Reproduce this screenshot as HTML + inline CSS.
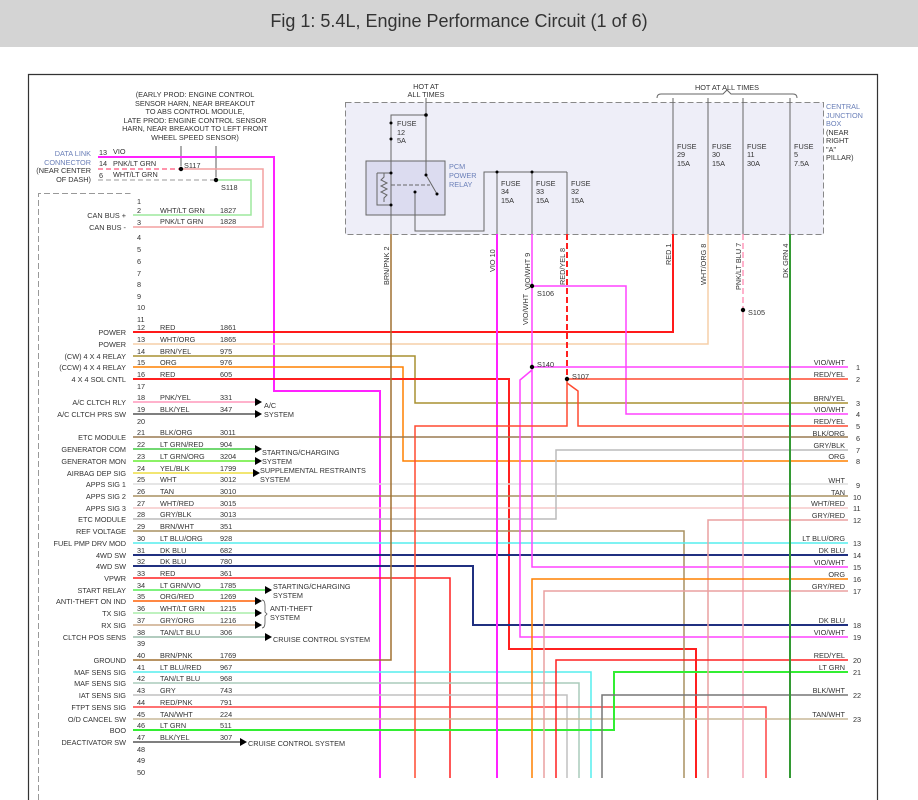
<!DOCTYPE html>
<html><head><meta charset="utf-8"><style>
html,body{margin:0;padding:0;background:#fff;width:918px;height:800px;overflow:hidden}
svg{display:block}
text{font-family:"Liberation Sans",sans-serif;font-size:7.3px;fill:#333}
.t{font-size:18px;fill:#333}
.b{fill:#6a7fb8}
.w{fill:none;stroke-width:1.5}
</style></head><body>
<svg width="918" height="800" viewBox="0 0 918 800" xmlns="http://www.w3.org/2000/svg">
<rect x="0" y="0" width="918" height="47" fill="#d4d4d4"/>
<text class="t" x="459" y="27" text-anchor="middle">Fig 1: 5.4L, Engine Performance Circuit (1 of 6)</text>
<path d="M28.5,800 V74.5 H877.5 V800" fill="none" stroke="#333" stroke-width="1.2"/>

<!-- CJB -->
<rect x="345.5" y="102.5" width="478" height="132" fill="#eeeef8" stroke="#888" stroke-dasharray="6,3"/>
<rect x="366" y="161" width="79" height="54" fill="#dcdcf0" stroke="#666"/>
<g stroke="#666" fill="none" stroke-width="1">
<path d="M426,98 V115 H391 V161 M426,115 V161"/>
<path d="M391,161 V234 M377,173 H391 M377,173 V205 H391 M384,173 v4 l-3,3 l6,3 l-6,3 l6,3 l-6,3 l6,3 l-3,3 v4"/>
<path d="M391,185 H430" stroke-dasharray="4,2"/>
<path d="M426,161 V175 L437,194 M415,192 V215 V231 H484 V172 H567 M497,172 V234 M532,172 V234 M567,172 V234"/>
<path d="M673,98 V234 M708,98 V234 M743,98 V234 M790,98 V234"/>
<path d="M657,98 q0,-4 4,-4 h62 l4,-4 l4,4 h62 q4,0 4,4"/>
</g>
<g fill="#000">
<circle cx="426" cy="115" r="1.8"/><circle cx="391" cy="123" r="1.5"/><circle cx="391" cy="139" r="1.5"/>
<circle cx="391" cy="173" r="1.5"/><circle cx="391" cy="205" r="1.5"/><circle cx="426" cy="175" r="1.5"/><circle cx="437" cy="194" r="1.5"/><circle cx="415" cy="192" r="1.5"/>
<circle cx="497" cy="172" r="1.5"/><circle cx="532" cy="172" r="1.5"/>
</g>
<text x="426" y="89" text-anchor="middle">HOT AT</text><text x="426" y="97" text-anchor="middle">ALL TIMES</text>
<text x="397" y="126">FUSE</text><text x="397" y="135">12</text><text x="397" y="143">5A</text>
<text class="b" x="449" y="169">PCM</text><text class="b" x="449" y="178">POWER</text><text class="b" x="449" y="187">RELAY</text>
<text x="501" y="186">FUSE</text><text x="501" y="194">34</text><text x="501" y="203">15A</text>
<text x="536" y="186">FUSE</text><text x="536" y="194">33</text><text x="536" y="203">15A</text>
<text x="571" y="186">FUSE</text><text x="571" y="194">32</text><text x="571" y="203">15A</text>
<text x="677" y="149">FUSE</text><text x="677" y="157">29</text><text x="677" y="166">15A</text>
<text x="712" y="149">FUSE</text><text x="712" y="157">30</text><text x="712" y="166">15A</text>
<text x="747" y="149">FUSE</text><text x="747" y="157">11</text><text x="747" y="166">30A</text>
<text x="794" y="149">FUSE</text><text x="794" y="157">5</text><text x="794" y="166">7.5A</text>
<text x="727" y="90" text-anchor="middle">HOT AT ALL TIMES</text>
<text class="b" x="826" y="109">CENTRAL</text><text class="b" x="826" y="118">JUNCTION</text><text class="b" x="826" y="126">BOX</text>
<text x="826" y="135">(NEAR</text><text x="826" y="143">RIGHT</text><text x="826" y="152">"A"</text><text x="826" y="160">PILLAR)</text>
<g font-size="7">
<text transform="translate(389,285) rotate(-90)">BRN/PNK  2</text>
<text transform="translate(495,272) rotate(-90)">VIO  10</text>
<text transform="translate(530,290) rotate(-90)">VIO/WHT  9</text>
<text transform="translate(565,285) rotate(-90)">RED/YEL  8</text>
<text transform="translate(671,265) rotate(-90)">RED  1</text>
<text transform="translate(706,285) rotate(-90)">WHT/ORG  8</text>
<text transform="translate(741,290) rotate(-90)">PNK/LT BLU  7</text>
<text transform="translate(788,278) rotate(-90)">DK GRN  4</text>
<text transform="translate(528,325) rotate(-90)">VIO/WHT</text>
</g>

<!-- DLC -->
<text x="195" y="97" text-anchor="middle">(EARLY PROD: ENGINE CONTROL</text>
<text x="195" y="106" text-anchor="middle">SENSOR HARN, NEAR BREAKOUT</text>
<text x="195" y="114" text-anchor="middle">TO ABS CONTROL MODULE,</text>
<text x="195" y="123" text-anchor="middle">LATE PROD: ENGINE CONTROL SENSOR</text>
<text x="195" y="131" text-anchor="middle">HARN, NEAR BREAKOUT TO LEFT FRONT</text>
<text x="195" y="140" text-anchor="middle">WHEEL SPEED SENSOR)</text>
<text class="b" x="91" y="156" text-anchor="end">DATA LINK</text>
<text class="b" x="91" y="165" text-anchor="end">CONNECTOR</text>
<text x="91" y="173" text-anchor="end">(NEAR CENTER</text>
<text x="91" y="182" text-anchor="end">OF DASH)</text>
<text x="99" y="155">13</text><text x="113" y="154">VIO</text>
<text x="99" y="166">14</text><text x="113" y="166">PNK/LT GRN</text>
<text x="99" y="178">6</text><text x="113" y="177">WHT/LT GRN</text>
<text x="184" y="168">S117</text><text x="221" y="190">S118</text>
<path d="M181,146 V166 M216,146 V177" stroke="#333" stroke-width="0.8"/>
<path d="M38.5,800 V193.5 H130.5" fill="none" stroke="#999" stroke-dasharray="6,3"/>

<g class="w">
<path d="M98,157 H274 V391 H380 V778" stroke="#ff22ff" stroke-width="2"/>
<path d="M98,169 H181" stroke="#ff7090" stroke-dasharray="5,3"/>
<path d="M181,169 H263 V227 H133" stroke="#f4a0a0"/>
<path d="M98,180 H216" stroke="#bbb" stroke-dasharray="5,3"/>
<path d="M216,180 H251 V215 H133" stroke="#9ee89e"/>
<path d="M133,332 H673 V234" stroke="#ff1a1a" stroke-width="2"/>
<path d="M133,344 H708 V234" stroke="#f5cfa8"/>
<path d="M133,356 H415 V403 H848" stroke="#a89030"/>
<path d="M133,367 H403 V461 H848" stroke="#ff8000"/>
<path d="M133,379 H509 V649 H696 V778" stroke="#ff2020" stroke-width="2"/>
<path d="M133,402 H255" stroke="#ff99bb"/>
<path d="M133,414 H255" stroke="#555"/>
<path d="M133,437 H848" stroke="#9a7a50"/>
<path d="M133,449 H255" stroke="#44cc44"/>
<path d="M133,461 H255" stroke="#66ee33"/>
<path d="M133,473 H253" stroke="#eedd44"/>
<path d="M133,484 H848" stroke="#dedede"/>
<path d="M133,496 H848" stroke="#a89060"/>
<path d="M133,508 H848" stroke="#f5c8c8"/>
<path d="M133,519 H556 V450 H848" stroke="#bbbbbb"/>
<path d="M133,531 H684 V778" stroke="#a89060"/>
<path d="M133,543 H848" stroke="#55eeee"/>
<path d="M133,555 H848" stroke="#203080" stroke-width="2"/>
<path d="M133,566 H473 V625 H848" stroke="#203080" stroke-width="2"/>
<path d="M133,578 H450 V778" stroke="#ff2020"/>
<path d="M133,590 H265" stroke="#55ee55"/>
<path d="M133,601 H255" stroke="#ff8844" stroke-width="2"/>
<path d="M133,613 H255" stroke="#aaeeaa"/>
<path d="M133,625 H255" stroke="#ccaa88"/>
<path d="M133,637 H265" stroke="#99bbaa"/>
<path d="M133,660 H391 V234" stroke="#a07030"/>
<path d="M133,672 H591 V778" stroke="#55eeee"/>
<path d="M133,683 H579 V778" stroke="#aaccbb"/>
<path d="M133,695 H567 V778" stroke="#c0c0c0"/>
<path d="M133,707 H766 V778" stroke="#ff4444"/>
<path d="M133,719 H848" stroke="#c8b898"/>
<path d="M133,730 H614 V672 H848" stroke="#33ee33" stroke-width="2"/>
<path d="M133,742 H240" stroke="#555"/>
<path d="M497,234 V778" stroke="#ff22ff" stroke-width="2"/>
<path d="M532,234 V567 H848 M532,286 H626 V414 H848 M532,367 H848 M532,370 L520,380 V637 H848" stroke="#ff44ff"/>
<path d="M567,234 V379" stroke="#ff2020" stroke-width="2" stroke-dasharray="6,3"/>
<path d="M567,379 H848 M567,379 V426 H415 V778 M567,383 L578,391 V426 H848" stroke="#ff4a30"/>
<path d="M743,234 V310" stroke="#ff99bb" stroke-dasharray="6,3"/>
<path d="M743,310 V778" stroke="#f4a8b8"/>
<path d="M708,778 V520 H848" stroke="#eaa0a0"/>
<path d="M532,778 V579 H848" stroke="#ff8000"/>
<path d="M544,778 V591 H848" stroke="#eaa0a0"/>
<path d="M556,778 V660 H848" stroke="#ff2020"/>
<path d="M602,778 V695 H848" stroke="#777"/>
<path d="M790,234 V778" stroke="#339933" stroke-width="2"/>
</g>
<g fill="#000">
<circle cx="181" cy="169" r="2.2"/><circle cx="216" cy="180" r="2.2"/>
<circle cx="532" cy="286" r="2.2"/><circle cx="532" cy="367" r="2.2"/><circle cx="567" cy="379" r="2.2"/><circle cx="743" cy="310" r="2.2"/>
<path d="M255,398 l7,4 l-7,4z M255,410 l7,4 l-7,4z M255,445 l7,4 l-7,4z M255,457 l7,4 l-7,4z M253,469 l7,4 l-7,4z M265,586 l7,4 l-7,4z M255,597 l7,4 l-7,4z M255,609 l7,4 l-7,4z M255,621 l7,4 l-7,4z M265,633 l7,4 l-7,4z M240,738 l7,4 l-7,4z"/>
</g>
<text x="537" y="296">S106</text><text x="537" y="367">S140</text><text x="572" y="379">S107</text><text x="748" y="315">S105</text>
<text x="264" y="408">A/C</text><text x="264" y="417">SYSTEM</text>
<text x="262" y="455">STARTING/CHARGING</text><text x="262" y="464">SYSTEM</text>
<text x="260" y="473">SUPPLEMENTAL RESTRAINTS</text><text x="260" y="482">SYSTEM</text>
<text x="273" y="589">STARTING/CHARGING</text><text x="273" y="598">SYSTEM</text>
<text x="270" y="611">ANTI-THEFT</text><text x="270" y="620">SYSTEM</text>
<path d="M262,600 q3,0 3,6 v6 l2,2 l-2,2 v6 q0,6 -3,6" fill="none" stroke="#555" stroke-width="0.8"/>
<text x="273" y="642">CRUISE CONTROL SYSTEM</text>
<text x="248" y="746">CRUISE CONTROL SYSTEM</text>

<!-- pins -->
<g>
<text x="137" y="204">1</text><text x="137" y="213">2</text><text x="137" y="225">3</text><text x="137" y="240">4</text><text x="137" y="252">5</text><text x="137" y="264">6</text><text x="137" y="276">7</text><text x="137" y="287">8</text><text x="137" y="299">9</text><text x="137" y="310">10</text><text x="137" y="322">11</text><text x="137" y="330">12</text><text x="137" y="342">13</text><text x="137" y="354">14</text><text x="137" y="365">15</text><text x="137" y="377">16</text><text x="137" y="389">17</text><text x="137" y="400">18</text><text x="137" y="412">19</text><text x="137" y="424">20</text><text x="137" y="435">21</text><text x="137" y="447">22</text><text x="137" y="459">23</text><text x="137" y="471">24</text><text x="137" y="482">25</text><text x="137" y="494">26</text><text x="137" y="506">27</text><text x="137" y="517">28</text><text x="137" y="529">29</text><text x="137" y="541">30</text><text x="137" y="553">31</text><text x="137" y="564">32</text><text x="137" y="576">33</text><text x="137" y="588">34</text><text x="137" y="599">35</text><text x="137" y="611">36</text><text x="137" y="623">37</text><text x="137" y="635">38</text><text x="137" y="646">39</text><text x="137" y="658">40</text><text x="137" y="670">41</text><text x="137" y="681">42</text><text x="137" y="693">43</text><text x="137" y="705">44</text><text x="137" y="717">45</text><text x="137" y="728">46</text><text x="137" y="740">47</text><text x="137" y="752">48</text><text x="137" y="763">49</text><text x="137" y="775">50</text>
</g>
<g>
<text x="160" y="213">WHT/LT GRN</text><text x="220" y="213">1827</text>
<text x="160" y="224">PNK/LT GRN</text><text x="220" y="224">1828</text>
<text x="160" y="330">RED</text><text x="220" y="330">1861</text>
<text x="160" y="342">WHT/ORG</text><text x="220" y="342">1865</text>
<text x="160" y="354">BRN/YEL</text><text x="220" y="354">975</text>
<text x="160" y="365">ORG</text><text x="220" y="365">976</text>
<text x="160" y="377">RED</text><text x="220" y="377">605</text>
<text x="160" y="400">PNK/YEL</text><text x="220" y="400">331</text>
<text x="160" y="412">BLK/YEL</text><text x="220" y="412">347</text>
<text x="160" y="435">BLK/ORG</text><text x="220" y="435">3011</text>
<text x="160" y="447">LT GRN/RED</text><text x="220" y="447">904</text>
<text x="160" y="459">LT GRN/ORG</text><text x="220" y="459">3204</text>
<text x="160" y="471">YEL/BLK</text><text x="220" y="471">1799</text>
<text x="160" y="482">WHT</text><text x="220" y="482">3012</text>
<text x="160" y="494">TAN</text><text x="220" y="494">3010</text>
<text x="160" y="506">WHT/RED</text><text x="220" y="506">3015</text>
<text x="160" y="517">GRY/BLK</text><text x="220" y="517">3013</text>
<text x="160" y="529">BRN/WHT</text><text x="220" y="529">351</text>
<text x="160" y="541">LT BLU/ORG</text><text x="220" y="541">928</text>
<text x="160" y="553">DK BLU</text><text x="220" y="553">682</text>
<text x="160" y="564">DK BLU</text><text x="220" y="564">780</text>
<text x="160" y="576">RED</text><text x="220" y="576">361</text>
<text x="160" y="588">LT GRN/VIO</text><text x="220" y="588">1785</text>
<text x="160" y="599">ORG/RED</text><text x="220" y="599">1269</text>
<text x="160" y="611">WHT/LT GRN</text><text x="220" y="611">1215</text>
<text x="160" y="623">GRY/ORG</text><text x="220" y="623">1216</text>
<text x="160" y="635">TAN/LT BLU</text><text x="220" y="635">306</text>
<text x="160" y="658">BRN/PNK</text><text x="220" y="658">1769</text>
<text x="160" y="670">LT BLU/RED</text><text x="220" y="670">967</text>
<text x="160" y="681">TAN/LT BLU</text><text x="220" y="681">968</text>
<text x="160" y="693">GRY</text><text x="220" y="693">743</text>
<text x="160" y="705">RED/PNK</text><text x="220" y="705">791</text>
<text x="160" y="717">TAN/WHT</text><text x="220" y="717">224</text>
<text x="160" y="728">LT GRN</text><text x="220" y="728">511</text>
<text x="160" y="740">BLK/YEL</text><text x="220" y="740">307</text>
</g>
<g text-anchor="end">
<text x="126" y="218">CAN BUS +</text><text x="126" y="230">CAN BUS -</text>
<text x="126" y="335">POWER</text><text x="126" y="347">POWER</text>
<text x="126" y="359">(CW) 4 X 4 RELAY</text><text x="126" y="370">(CCW) 4 X 4 RELAY</text><text x="126" y="382">4 X 4 SOL CNTL</text>
<text x="126" y="405">A/C CLTCH RLY</text><text x="126" y="417">A/C CLTCH PRS SW</text>
<text x="126" y="440">ETC MODULE</text><text x="126" y="452">GENERATOR COM</text><text x="126" y="464">GENERATOR MON</text><text x="126" y="476">AIRBAG DEP SIG</text>
<text x="126" y="487">APPS SIG 1</text><text x="126" y="499">APPS SIG 2</text><text x="126" y="511">APPS SIG 3</text><text x="126" y="522">ETC MODULE</text>
<text x="126" y="534">REF VOLTAGE</text><text x="126" y="546">FUEL PMP DRV MOD</text><text x="126" y="558">4WD SW</text><text x="126" y="569">4WD SW</text>
<text x="126" y="581">VPWR</text><text x="126" y="593">START RELAY</text><text x="126" y="604">ANTI-THEFT ON IND</text><text x="126" y="616">TX SIG</text><text x="126" y="628">RX SIG</text><text x="126" y="640">CLTCH POS SENS</text>
<text x="126" y="663">GROUND</text><text x="126" y="675">MAF SENS SIG</text><text x="126" y="686">MAF SENS SIG</text><text x="126" y="698">IAT SENS SIG</text><text x="126" y="710">FTPT SENS SIG</text><text x="126" y="722">O/D CANCEL SW</text><text x="126" y="733">BOO</text><text x="126" y="745">DEACTIVATOR SW</text>
</g>
<g text-anchor="end">
<text x="845" y="365">VIO/WHT</text><text x="845" y="377">RED/YEL</text><text x="845" y="401">BRN/YEL</text><text x="845" y="412">VIO/WHT</text><text x="845" y="424">RED/YEL</text><text x="845" y="436">BLK/ORG</text><text x="845" y="448">GRY/BLK</text><text x="845" y="459">ORG</text><text x="845" y="483">WHT</text><text x="845" y="495">TAN</text><text x="845" y="506">WHT/RED</text><text x="845" y="518">GRY/RED</text><text x="845" y="541">LT BLU/ORG</text><text x="845" y="553">DK BLU</text><text x="845" y="565">VIO/WHT</text><text x="845" y="577">ORG</text><text x="845" y="589">GRY/RED</text><text x="845" y="623">DK BLU</text><text x="845" y="635">VIO/WHT</text><text x="845" y="658">RED/YEL</text><text x="845" y="670">LT GRN</text><text x="845" y="693">BLK/WHT</text><text x="845" y="717">TAN/WHT</text>
</g>
<g>
<text x="856" y="370">1</text><text x="856" y="382">2</text><text x="856" y="406">3</text><text x="856" y="417">4</text><text x="856" y="429">5</text><text x="856" y="441">6</text><text x="856" y="453">7</text><text x="856" y="464">8</text><text x="856" y="488">9</text><text x="853" y="500">10</text><text x="853" y="511">11</text><text x="853" y="523">12</text><text x="853" y="546">13</text><text x="853" y="558">14</text><text x="853" y="570">15</text><text x="853" y="582">16</text><text x="853" y="594">17</text><text x="853" y="628">18</text><text x="853" y="640">19</text><text x="853" y="663">20</text><text x="853" y="675">21</text><text x="853" y="698">22</text><text x="853" y="722">23</text>
</g>
</svg>
</body></html>
